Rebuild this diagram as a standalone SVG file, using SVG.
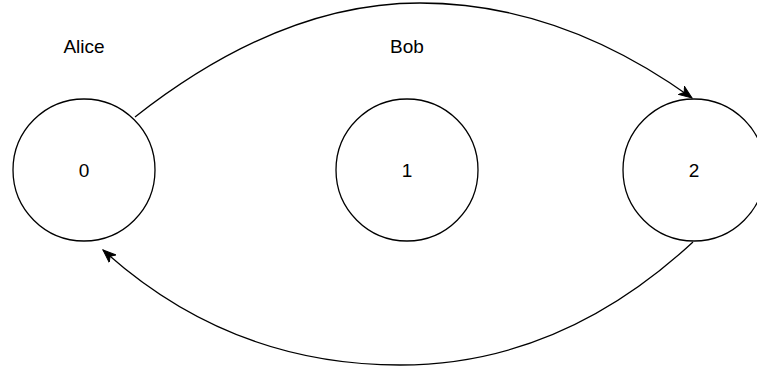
<svg xmlns="http://www.w3.org/2000/svg" width="757" height="374" viewBox="0 0 757 374">
<style>
.node{fill:#fff;stroke:#000;stroke-width:1.3}
.lbl{font-family:"Liberation Sans",Arial,sans-serif;font-size:19px;fill:#000;text-anchor:middle;dominant-baseline:central}
.edge{fill:none;stroke:#000;stroke-width:1.3}
</style>
<defs>
<marker id="arr" viewBox="0 0 14 14" refX="13" refY="7" markerWidth="14" markerHeight="14" markerUnits="userSpaceOnUse" orient="auto">
<path d="M0,2 L13,7 L0,12 L3.5,7 Z" fill="#000" stroke="#000" stroke-width="1"/>
</marker>
</defs>
<rect width="757" height="374" fill="#fff"/>
<g id="node0"><circle class="node" cx="84" cy="170" r="71"/><text class="lbl" x="84" y="170">0</text></g>
<g id="node1"><circle class="node" cx="407" cy="170" r="71"/><text class="lbl" x="407" y="170">1</text></g>
<g id="node2"><circle class="node" cx="694" cy="170" r="71"/><text class="lbl" x="694" y="170">2</text></g>
<g id="labelAlice"><text class="lbl" x="84" y="46">Alice</text></g>
<g id="labelBob"><text class="lbl" x="407" y="46">Bob</text></g>
<g id="connectors">
<path class="edge" d="M135,117 Q280,3 420,3 Q560,3 692,98" marker-end="url(#arr)"/>
<path class="edge" d="M693,242 Q560,365 400,365 Q230,365 103,250" marker-end="url(#arr)"/>
</g>
</svg>
